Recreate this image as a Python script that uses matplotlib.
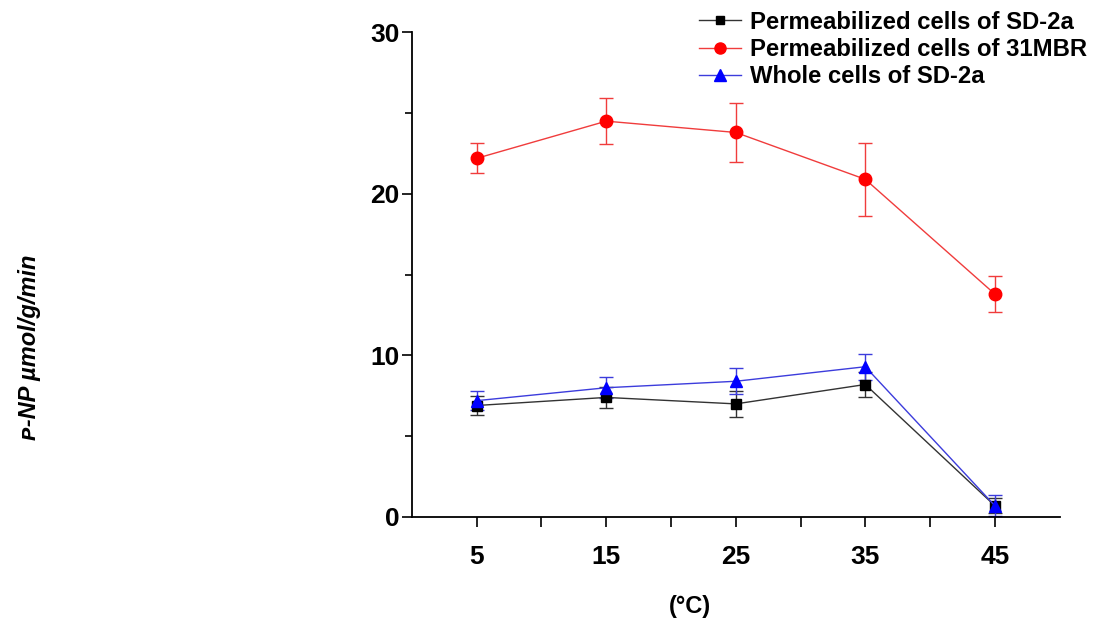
import matplotlib.pyplot as plt
from matplotlib.lines import Line2D
from matplotlib.ticker import MultipleLocator, FixedLocator

# data
temp = [5, 15, 25, 35, 45]
perm_sd2a = [6.9, 7.4, 7.0, 8.2, 0.7]
perm_sd2a_err = [0.6, 0.65, 0.8, 0.77, 0.45]
perm_31mbr = [22.2, 24.5, 23.8, 20.9, 13.8]
perm_31mbr_err = [0.92, 1.42, 1.81, 2.26, 1.1]
whole_sd2a = [7.2, 8.0, 8.4, 9.3, 0.7]
whole_sd2a_err = [0.6, 0.65, 0.8, 0.8, 0.65]
names = ['Permeabilized cells of SD-2a', 'Permeabilized cells of 31MBR', 'Whole cells of SD-2a']

plt.rcParams['font.family'] = ['Liberation Sans', 'DejaVu Sans']

fig = plt.figure(figsize=(11.06, 6.21), dpi=100)
ax = fig.add_axes([0.3725, 0.1675, 0.5855, 0.7805])

styles = [('#333333', 'black', 's', 7), ('#f03c3c', '#ff0000', 'o', 9), ('#3c3cdc', '#0000ff', '^', 9)]
series = [(perm_sd2a, perm_sd2a_err), (perm_31mbr, perm_31mbr_err), (whole_sd2a, whole_sd2a_err)]
handles = []
for (y, err), (lc, mc, mk, ms), name in zip(series, styles, names):
    ax.errorbar(temp, y, yerr=err, color=lc, ecolor=lc, marker=mk, mfc=mc, mec=mc,
                ms=ms, lw=1, capsize=5, elinewidth=1)
    handles.append(Line2D([], [], color=lc, lw=1, marker=mk, mfc=mc, mec=mc, ms=ms - 1, label=name))

ax.set_xlim(0, 50)
ax.set_ylim(0, 30)
ax.xaxis.set_major_locator(FixedLocator(temp))
ax.xaxis.set_minor_locator(FixedLocator([10, 20, 30, 40]))
ax.yaxis.set_major_locator(MultipleLocator(10))
ax.yaxis.set_minor_locator(MultipleLocator(5))

ax.spines['top'].set_visible(False)
ax.spines['right'].set_visible(False)
for s in ['left', 'bottom']:
    ax.spines[s].set_linewidth(1.3)
ax.tick_params(axis='x', which='both', direction='out', length=7, width=1.2, pad=13)
ax.tick_params(axis='y', which='major', direction='out', length=7, width=1.2, pad=2)
ax.tick_params(axis='y', which='minor', direction='out', length=5, width=1.2)
for lab in ax.get_xticklabels() + ax.get_yticklabels():
    lab.set_fontsize(19)
    lab.set_fontweight('bold')

fig.text(0.624, 0.024, '(°C)', fontsize=17, fontweight='bold', ha='center', va='center')
fig.text(0.027, 0.44, 'ᴘ-NP µmol/g/min', fontsize=17, fontweight='bold', fontstyle='italic',
         rotation=90, ha='center', va='center')

ax.legend(handles=handles, loc='upper left', bbox_to_anchor=(0.428, 1.064), frameon=False,
          prop={'size': 17.2, 'weight': 'bold'}, handlelength=1.75, handletextpad=0.4,
          labelspacing=0.17, borderaxespad=0)

fig.savefig('out.png', dpi=100)
